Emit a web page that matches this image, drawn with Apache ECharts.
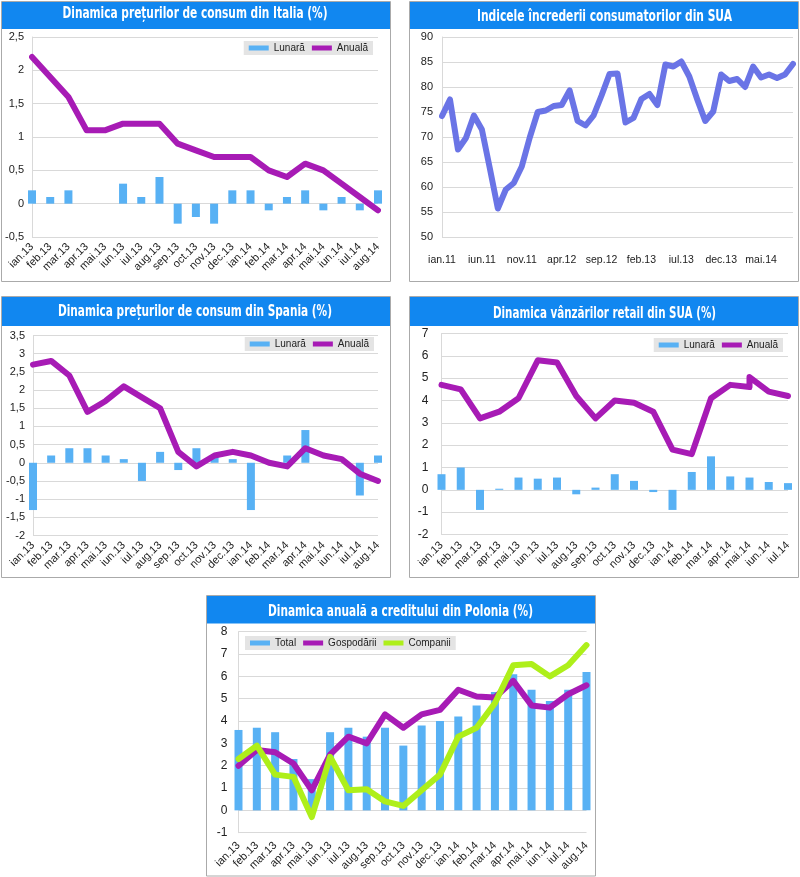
<!DOCTYPE html>
<html><head><meta charset="utf-8">
<script src="https://cdn.jsdelivr.net/npm/echarts@6/dist/echarts.min.js"></script>
<style>html,body{margin:0;padding:0;background:#fff}#c{width:800px;height:877px}</style>
</head><body><div id="c"></div><script>
// ---------- DATA ----------
const months1314 = ['ian.13','feb.13','mar.13','apr.13','mai.13','iun.13','iul.13','aug.13','sep.13','oct.13','nov.13','dec.13','ian.14','feb.14','mar.14','apr.14','mai.14','iun.14','iul.14','aug.14'];

const itTitle = 'Dinamica prețurilor de consum din Italia (%)';
const itLunara = [0.2,0.1,0.2,0,0,0.3,0.1,0.4,-0.3,-0.2,-0.3,0.2,0.2,-0.1,0.1,0.2,-0.1,0.1,-0.1,0.2];
const itAnuala = [2.2,1.9,1.6,1.1,1.1,1.2,1.2,1.2,0.9,0.8,0.7,0.7,0.7,0.5,0.4,0.6,0.5,0.3,0.1,-0.1];

const usConfTitle = 'Indicele încrederii consumatorilor din SUA';
const usConfMonths = ['ian.11','feb.11','mar.11','apr.11','mai.11','iun.11','iul.11','aug.11','sep.11','oct.11','nov.11','dec.11',
  'ian.12','feb.12','mar.12','apr.12','mai.12','iun.12','iul.12','aug.12','sep.12','oct.12','nov.12','dec.12',
  'ian.13','feb.13','mar.13','apr.13','mai.13','iun.13','iul.13','aug.13','sep.13','oct.13','nov.13','dec.13',
  'ian.14','feb.14','mar.14','apr.14','mai.14','iun.14','iul.14','aug.14','sep.14'];
const usConf = [74.2,77.5,67.5,69.8,74.3,71.5,63.7,55.7,59.5,60.8,64.1,69.9,
  75.0,75.3,76.2,76.4,79.3,73.2,72.3,74.3,78.3,82.6,82.7,72.9,
  73.8,77.6,78.6,76.4,84.5,84.1,85.1,82.1,77.5,73.2,75.1,82.5,
  81.2,81.6,80.0,84.1,81.9,82.5,81.8,82.5,84.6];

const esTitle = 'Dinamica prețurilor de consum din Spania (%)';
const esLunara = [-1.3,0.2,0.4,0.4,0.2,0.1,-0.5,0.3,-0.2,0.4,0.2,0.1,-1.3,0,0.2,0.9,0,0,-0.9,0.2];
const esAnuala = [2.7,2.8,2.4,1.4,1.7,2.1,1.8,1.5,0.3,-0.1,0.2,0.3,0.2,0.0,-0.1,0.4,0.2,0.1,-0.3,-0.5];

const usRetTitle = 'Dinamica vânzărilor retail din SUA (%)';
const usRetMonths = ['ian.13','feb.13','mar.13','apr.13','mai.13','iun.13','iul.13','aug.13','sep.13','oct.13','nov.13','dec.13','ian.14','feb.14','mar.14','apr.14','mai.14','iun.14','iul.14'];
const usRetLunara = [0.7,1.0,-0.9,0.05,0.55,0.5,0.55,-0.2,0.1,0.7,0.4,-0.1,-0.9,0.8,1.5,0.6,0.55,0.35,0.3];
const usRetAnualaMonths = ['ian.13','feb.13','mar.13','apr.13','mai.13','iun.13','iul.13','aug.13','sep.13','oct.13','nov.13','dec.13','ian.14','feb.14','mar.14','apr.14','mai.14','mai.14','iun.14','iul.14'];
const usRetAnuala = [4.7,4.5,3.2,3.5,4.1,5.8,5.7,4.2,3.2,4.0,3.9,3.5,1.8,1.6,4.1,4.7,4.6,5.05,4.4,4.2];

const plTitle = 'Dinamica anuală a creditului din Polonia (%)';
const plTotal = [3.6,3.7,3.5,2.3,1.4,3.5,3.7,3.3,3.7,2.9,3.8,4.0,4.2,4.7,5.3,6.1,5.4,4.9,5.4,6.2];
const plGosp = [2.0,2.7,2.6,2.1,0.9,2.5,3.3,3.0,4.3,3.7,4.3,4.5,5.4,5.1,5.05,5.8,4.7,4.6,5.2,5.6];
const plComp = [2.3,2.9,1.6,1.5,-0.3,2.4,0.9,0.95,0.4,0.2,0.9,1.6,3.3,3.7,4.8,6.5,6.55,6.0,6.5,7.4];

// ---------- STYLE ----------
const FONT = '"Liberation Sans", Arial, sans-serif';
const TFONT = '"DejaVu Sans Condensed", "DejaVu Sans", sans-serif';
const GRIDC = '#D9D9D9';
const TXT = '#222';
const BLUE_BAR = '#58B1F4';
const MAGENTA = '#A71BB5';
const PERI = '#6A74E6';
const LIME = '#AEEF1A';
const TITLE_BG = '#1187F0';
const comma = v => String(v).replace('.', ',');

function catAxis(gi, data, rotate, margin, interval, fs) {
  return {type:'category', gridIndex:gi, data:data, boundaryGap:false,
    axisLine:{show:false, onZero:false}, axisTick:{show:false}, splitLine:{show:false},
    axisLabel:{rotate:rotate, interval:interval, margin:margin, fontSize:fs, color:TXT, fontFamily:FONT}};
}
function valAxis(gi, min, max, interval, margin, fs, fmt) {
  return {type:'value', gridIndex:gi, min:min, max:max, interval:interval,
    axisLine:{show:true, lineStyle:{color:GRIDC, width:1}}, axisTick:{show:false},
    splitLine:{show:true, lineStyle:{color:GRIDC, width:1}},
    axisLabel:{margin:margin, fontSize:fs, color:TXT, fontFamily:FONT, formatter:fmt}};
}
function barS(name, xi, data, color) {
  return {type:'bar', name:name, xAxisIndex:xi, yAxisIndex:xi, data:data, barWidth:8, clip:false,
    itemStyle:{color:color}, z:2, animation:false};
}
function lineS(name, xi, data, color, z) {
  return {type:'line', name:name, xAxisIndex:xi, yAxisIndex:xi, data:data, symbol:'none', clip:false,
    lineStyle:{color:color, width:6, cap:'round', join:'round'}, itemStyle:{color:color}, z:z||3, animation:false};
}
function legendAt(pos, names) {
  return Object.assign({data:names.map(n => ({name:n, icon:'rect'})), orient:'horizontal',
    itemWidth:20, itemHeight:5, itemGap:7, padding:[2,5], backgroundColor:'#E4E4E4',
    textStyle:{fontSize:10, color:TXT, fontFamily:FONT}, selectedMode:false}, pos);
}
function measure(text, font) {
  const ctx = document.createElement('canvas').getContext('2d');
  ctx.font = font; return ctx.measureText(text).width;
}
function panel(x, y, w, h, barH, title, cx, cy, tw) {
  const f = 'bold 16px ' + TFONT;
  const sx = tw / measure(title, f);
  return [
    {type:'rect', shape:{x:x, y:y, width:w, height:h}, style:{fill:'none', stroke:'#AAAAAA', lineWidth:1}, z:-5},
    {type:'rect', shape:{x:x+0.5, y:y+0.5, width:w-1, height:barH}, style:{fill:TITLE_BG}, z:-4},
    {type:'text', x:cx, y:cy, scaleX:sx, scaleY:1,
     style:{text:title, fill:'#fff', font:f, align:'center', verticalAlign:'middle', textAlign:'center', textVerticalAlign:'middle'}, z:5}
  ];
}

const option = {
  animation:false,
  backgroundColor:'#fff',
  grid:[
    {left:32, top:37, width:346, height:200, outerBoundsMode:'none'},
    {left:442, top:37, width:351, height:200, outerBoundsMode:'none'},
    {left:33, top:335.5, width:345, height:200, outerBoundsMode:'none'},
    {left:441.5, top:333.5, width:346.5, height:201, outerBoundsMode:'none'},
    {left:238.5, top:631.7, width:348, height:201, outerBoundsMode:'none'}
  ],
  xAxis:[
    catAxis(0, months1314, 45, 8, 0, 11),
    catAxis(1, usConfMonths, 0, 18, 4, 10.5),
    catAxis(2, months1314, 45, 8, 0, 11),
    catAxis(3, usRetMonths, 45, 9, 0, 11),
    catAxis(4, months1314, 45, 11, 0, 11)
  ],
  yAxis:[
    valAxis(0, -0.5, 2.5, 0.5, 8, 11, comma),
    valAxis(1, 50, 90, 5, 9, 11, comma),
    valAxis(2, -2, 3.5, 0.5, 8, 11, comma),
    valAxis(3, -2, 7, 1, 13, 12, comma),
    valAxis(4, -1, 8, 1, 11, 12, comma)
  ],
  legend:[
    legendAt({right:427, top:41}, ['Lunară','Anuală']),
    legendAt({right:426, top:337}, ['Lunară','Anuală']),
    legendAt({right:17, top:338}, ['Lunară','Anuală']),
    legendAt({left:245, top:636}, ['Total','Gospodării','Companii'])
  ],
  graphic:{elements:[].concat(
    panel(1.5, 1.5, 389, 280, 27, itTitle, 195, 14, 265),
    panel(409.5, 1.5, 389, 280, 27, usConfTitle, 604.5, 16.5, 255),
    panel(1.5, 296.5, 389, 281, 29, esTitle, 195, 312, 274),
    panel(409.5, 296.5, 389, 281, 29, usRetTitle, 604.5, 313.5, 223),
    panel(206.5, 595.5, 389, 280.5, 27.5, plTitle, 400.5, 612, 265)
  )},
  series:[
    barS('Lunară', 0, itLunara, BLUE_BAR),
    lineS('Anuală', 0, itAnuala, MAGENTA),
    lineS('Indicele', 1, usConf, PERI),
    barS('Lunară', 2, esLunara, BLUE_BAR),
    lineS('Anuală', 2, esAnuala, MAGENTA),
    barS('Lunară', 3, usRetLunara, BLUE_BAR),
    lineS('Anuală', 3, usRetAnualaMonths.map((m, i) => [usRetMonths.indexOf(m), usRetAnuala[i]]), MAGENTA),
    barS('Total', 4, plTotal, BLUE_BAR),
    lineS('Gospodării', 4, plGosp, MAGENTA, 3),
    lineS('Companii', 4, plComp, LIME, 4)
  ]
};
const chart = echarts.init(document.getElementById('c'), null, {renderer:'canvas'});
chart.setOption(option);
</script></body></html>
